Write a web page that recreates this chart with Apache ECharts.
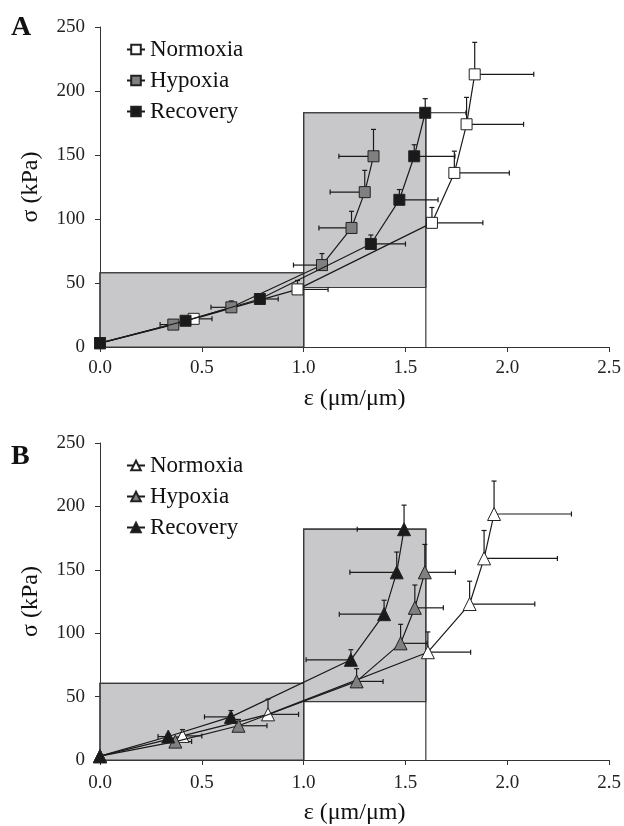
<!DOCTYPE html>
<html><head><meta charset="utf-8">
<script src="https://cdn.jsdelivr.net/npm/echarts@6/dist/echarts.min.js"></script>
<style>html,body{margin:0;padding:0;background:#fff}#c{width:624px;height:826px}</style>
</head><body><div id="c"></div>
<script>
// ---- data ----
const seriesNames = ['Normoxia', 'Hypoxia', 'Recovery'];
const panelLabels = ['A', 'B'];
const xTitle = 'ε (μm/μm)';
const yTitle = 'σ (kPa)';

// Panel A (squares)
const aNormX = [0, 0.46, 0.97, 1.63, 1.74, 1.80, 1.84];
const aNormY = [3, 22, 45, 97, 136, 174, 213];
const aNormEx = [0, 0.09, 0.15, 0.25, 0.27, 0.28, 0.29];
const aNormEy = [0, 2, 7, 12, 17, 21, 25];

const aHypX = [0, 0.36, 0.645, 1.09, 1.235, 1.30, 1.343];
const aHypY = [3, 17.5, 31, 64, 93, 121, 149];
const aHypEx = [0, 0.065, 0.10, 0.14, 0.16, 0.17, 0.17];
const aHypEy = [0, 2, 5, 9, 13, 17, 21];

const aRecX = [0, 0.42, 0.785, 1.33, 1.47, 1.543, 1.597];
const aRecY = [3, 20.5, 37.5, 80.5, 115, 149, 183];
const aRecEx = [0, 0.03, 0.09, 0.17, 0.19, 0.20, 0.20];
const aRecEy = [0, 2, 2, 7, 8, 9, 11];

// Panel B (triangles)
const bNormX = [0, 0.405, 0.825, 1.61, 1.815, 1.886, 1.935];
const bNormY = [3, 19, 36, 85, 123, 159, 194];
const bNormEx = [0, 0.095, 0.15, 0.21, 0.32, 0.36, 0.38];
const bNormEy = [0, 5, 12, 16, 18, 22, 26];

const bHypX = [0, 0.37, 0.68, 1.26, 1.476, 1.546, 1.595];
const bHypY = [3, 14.5, 27, 62, 92, 120, 148];
const bHypEx = [0, 0.08, 0.14, 0.13, 0.13, 0.14, 0.15];
const bHypEy = [0, 2, 5, 10, 15, 18, 22];

const bRecX = [0, 0.335, 0.643, 1.232, 1.395, 1.457, 1.493];
const bRecY = [3, 18.5, 34, 79, 115, 148, 182];
const bRecEx = [0, 0.05, 0.13, 0.22, 0.22, 0.23, 0.23];
const bRecEy = [0, 2, 5, 8, 11, 16, 19];

// error bar direction for x (+1 right, -1 left)
const aDirs = [1, -1, 1];
const bDirs = [1, 1, -1];

// shaded boxes: [x0, x1, shadedBottom, top]  (outline drawn down to 0)
const aBoxes = [[0, 1.0, 0, 58], [1.0, 1.6, 46.5, 183]];
const bBoxes = [[0, 1.0, 0, 60.5], [1.0, 1.6, 46, 182]];

// ---- styling ----
const FONT = 'Liberation Serif';
const fills = ['#ffffff', '#808080', '#1a1a1a'];
const STROKE = '#1a1a1a';

function zip(xs, ys) { return xs.map((x, i) => [x, ys[i]]); }
function zip4(xs, ys, ex, ey) { return xs.map((x, i) => [x, ys[i], ex[i], ey[i]]); }

function boxRender(params, api) {
  const x0 = api.value(0), x1 = api.value(1), lo = api.value(2), hi = api.value(3);
  const p00 = api.coord([x0, 0]);
  const pLo = api.coord([x0, lo]);
  const pHi = api.coord([x1, hi]);
  const p10 = api.coord([x1, 0]);
  return {
    type: 'group',
    children: [
      { type: 'rect', shape: { x: pLo[0], y: pHi[1], width: pHi[0] - pLo[0], height: pLo[1] - pHi[1] },
        style: { fill: '#c8c8ca', stroke: '#3a3a3a', lineWidth: 1.2 } },
      { type: 'polyline', shape: { points: [[p00[0], p00[1]], [p00[0], pHi[1]], [p10[0], pHi[1]], [p10[0], p10[1]]] },
        style: { fill: null, stroke: '#3a3a3a', lineWidth: 1.2 } }
    ]
  };
}

function errRender(dir) {
  return function (params, api) {
    const x = api.value(0), y = api.value(1), ex = api.value(2), ey = api.value(3);
    const p = api.coord([x, y]);
    const st = { stroke: STROKE, lineWidth: 1.2 };
    const cap = 2.5;
    const ch = [];
    if (ey > 0) {
      const t = api.coord([x, y + ey]);
      ch.push({ type: 'line', shape: { x1: p[0], y1: p[1], x2: t[0], y2: t[1] }, style: st });
      ch.push({ type: 'line', shape: { x1: t[0] - cap, y1: t[1], x2: t[0] + cap, y2: t[1] }, style: st });
    }
    if (ex > 0) {
      const h = api.coord([x + dir * ex, y]);
      ch.push({ type: 'line', shape: { x1: p[0], y1: p[1], x2: h[0], y2: h[1] }, style: st });
      ch.push({ type: 'line', shape: { x1: h[0], y1: h[1] - cap, x2: h[0], y2: h[1] + cap }, style: st });
    }
    return { type: 'group', children: ch };
  };
}

function axisCommonX(gi, labelMargin, nameGap) {
  return {
    type: 'value', gridIndex: gi, min: 0, max: 2.5, interval: 0.5,
    name: xTitle, nameLocation: 'middle', nameGap: nameGap,
    nameTextStyle: { fontFamily: FONT, fontSize: 24, color: '#111' },
    axisLine: { show: true, lineStyle: { color: '#333', width: 1 } },
    axisTick: { show: true, length: 5, lineStyle: { color: '#333' } },
    axisLabel: { formatter: v => v.toFixed(1), fontFamily: FONT, fontSize: 19, color: '#222', margin: labelMargin },
    splitLine: { show: false }
  };
}
function axisCommonY(gi) {
  return {
    type: 'value', gridIndex: gi, min: 0, max: 250, interval: 50,
    name: yTitle, nameLocation: 'middle', nameGap: 57, nameRotate: 90,
    nameTextStyle: { fontFamily: FONT, fontSize: 24, color: '#111' },
    axisLine: { show: true, lineStyle: { color: '#333', width: 1 } },
    axisTick: { show: true, length: 5, lineStyle: { color: '#333' } },
    axisLabel: { fontFamily: FONT, fontSize: 19, color: '#222', margin: 15 },
    splitLine: { show: false }
  };
}

const panels = [
  { prefix: 'A ', symbol: 'rect', size: 11, boxes: aBoxes, dirs: aDirs,
    sets: [[aNormX, aNormY, aNormEx, aNormEy], [aHypX, aHypY, aHypEx, aHypEy], [aRecX, aRecY, aRecEx, aRecEy]] },
  { prefix: 'B ', symbol: 'triangle', size: 13, boxes: bBoxes, dirs: bDirs,
    sets: [[bNormX, bNormY, bNormEx, bNormEy], [bHypX, bHypY, bHypEx, bHypEy], [bRecX, bRecY, bRecEx, bRecEy]] }
];

const series = [];
panels.forEach((pn, gi) => {
  series.push({ type: 'custom', xAxisIndex: gi, yAxisIndex: gi, renderItem: boxRender, data: pn.boxes,
    encode: { x: [0, 1], y: [2, 3] }, z: 1, silent: true });
  pn.sets.forEach((s, k) => {
    series.push({ type: 'custom', xAxisIndex: gi, yAxisIndex: gi, renderItem: errRender(pn.dirs[k]),
      data: zip4(s[0], s[1], s[2], s[3]), encode: { x: 0, y: 1 }, z: 2, silent: true });
  });
  pn.sets.forEach((s, k) => {
    series.push({ type: 'line', name: pn.prefix + seriesNames[k], xAxisIndex: gi, yAxisIndex: gi,
      data: zip(s[0], s[1]), symbol: pn.symbol, symbolSize: pn.size, showAllSymbol: true,
      itemStyle: { color: fills[k], borderColor: '#222', borderWidth: 1 },
      lineStyle: { color: STROKE, width: 1.2 }, z: 3 + k, animation: false });
  });
});

const legendCommon = {
  orient: 'vertical', itemWidth: 18, itemHeight: 12, itemGap: 8,
  textStyle: { fontFamily: FONT, fontSize: 23, color: '#111' },
  formatter: n => n.slice(2), selectedMode: false
};

const option = {
  animation: false,
  backgroundColor: '#fff',
  grid: [
    { left: 100, top: 27, width: 512, height: 320, containLabel: false },
    { left: 100, top: 443, width: 512, height: 317, containLabel: false }
  ],
  xAxis: [axisCommonX(0, 12, 40), axisCommonX(1, 14, 41)],
  yAxis: [axisCommonY(0), axisCommonY(1)],
  legend: [
    Object.assign({ left: 121, top: 33, data: seriesNames.map(n => 'A ' + n) }, legendCommon),
    Object.assign({ left: 121, top: 449, data: seriesNames.map(n => 'B ' + n) }, legendCommon)
  ],
  graphic: [
    { type: 'text', left: 11, top: 14, style: { text: panelLabels[0], font: 'bold 28px "Liberation Serif"', fill: '#111' } },
    { type: 'text', left: 11, top: 443, style: { text: panelLabels[1], font: 'bold 28px "Liberation Serif"', fill: '#111' } }
  ],
  series: series
};

const chart = echarts.init(document.getElementById('c'), null, { renderer: 'canvas' });
chart.setOption(option);
</script>
</body></html>
